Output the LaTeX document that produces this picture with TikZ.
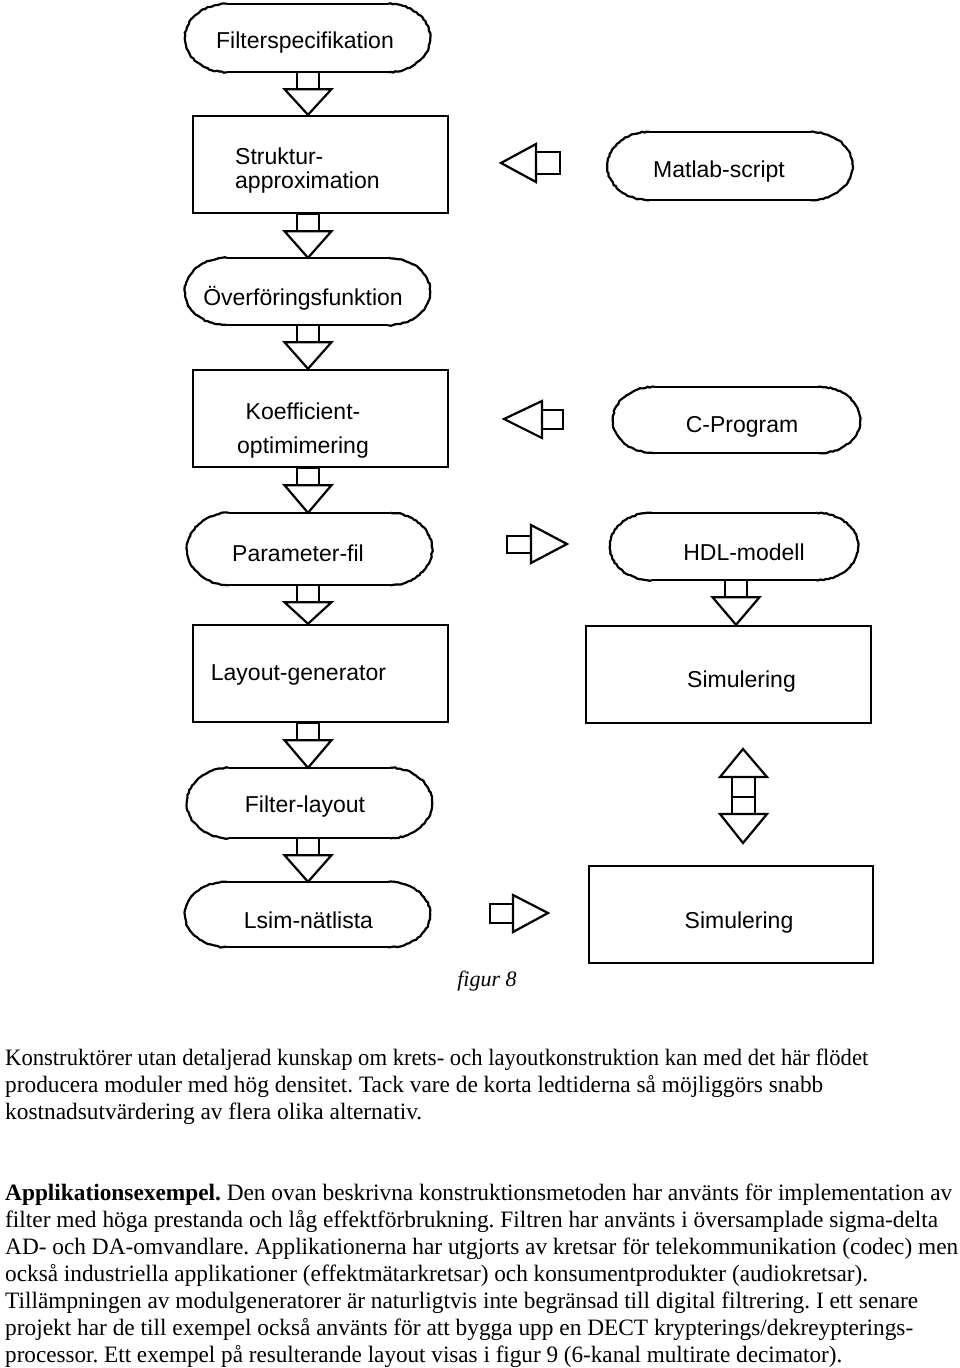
\documentclass[tikz,border=0pt]{standalone}
\usepackage{graphicx}
\usepackage{fontspec}
\setmainfont{Liberation Serif}
\newfontfamily\arialf{Liberation Sans}
\usetikzlibrary{calc,decorations.pathmorphing}
\frenchspacing
\newcommand\pillshape[1]{%
  \draw[ln] ($(#1.north west)+(42,0)$) -- ($(#1.north east)+(-42,0)$);
  \draw[ln] ($(#1.south west)+(42,0)$) -- ($(#1.south east)+(-42,0)$);
  \draw[ln,rough] ($(#1.north east)+(-42,0)$) .. controls ($(#1.north east)+(-18.8,0)$) and ($(#1.east)+(0,-18.8)$) .. (#1.east)
     .. controls ($(#1.east)+(0,18.8)$) and ($(#1.south east)+(-18.8,0)$) .. ($(#1.south east)+(-42,0)$);
  \draw[ln,rough] ($(#1.north west)+(42,0)$) .. controls ($(#1.north west)+(18.8,0)$) and ($(#1.west)+(0,-18.8)$) .. (#1.west)
     .. controls ($(#1.west)+(0,18.8)$) and ($(#1.south west)+(18.8,0)$) .. ($(#1.south west)+(42,0)$);
}
\newcommand\blockdown[3]{%
  \coordinate (bdA) at (#2.south -| #1);
  \coordinate (bdB) at (#3.north -| #1);
  \draw[ln] ($(bdA)+(-11,0)$) rectangle ($(bdA)+(11,17)$);
  \draw[ln] ($(bdA)+(-23.5,17)$) -- ($(bdA)+(23.5,17)$) -- (bdB) -- cycle;
}
\begin{document}
\begin{tikzpicture}[x=1pt,y=-1pt,
  ln/.style={line width=2.2pt, line join=miter},
  rough/.style={decorate, decoration={random steps, segment length=2.5pt, amplitude=0.6pt}},
  pillnode/.style={inner sep=0pt, minimum width=245pt, minimum height=68pt},
  boxnode/.style={draw, line width=2.4pt, inner sep=0pt},
  dtext/.style={font=\arialf\fontsize{23}{27}\selectfont, inner sep=0pt, anchor=base},
  ptext/.style={font=\fontsize{23.5}{27}\selectfont, inner sep=0pt, anchor=base west}
]
\useasboundingbox (0,0) rectangle (960,1368);
\coordinate (cL) at (308,0);
\coordinate (cR) at (736,0);

% left column
\node[pillnode] (fs) at (307.5,38) {};
\pillshape{fs}
\node[dtext] (fst) at (305,48.5) {Filterspecifikation};

\node[boxnode, minimum width=255pt, minimum height=97pt] (sa) at (320.5,164.5) {};
\node[dtext, anchor=base west] (sat1) at (235,164) {Struktur-};
\node[dtext, anchor=base west] (sat2) at (235,188) {approximation};

\node[pillnode, minimum height=67pt] (ov) at (307.5,291.5) {};
\pillshape{ov}
\node[dtext] (ovt) at (303,305) {Överföringsfunktion};

\node[boxnode, minimum width=255pt, minimum height=97pt] (ko) at (320.5,418.5) {};
\node[dtext] (kot1) at (303,419) {Koefficient-};
\node[dtext] (kot2) at (303,453) {optimimering};

\node[pillnode, minimum height=72pt] (pf) at (309.5,549) {};
\pillshape{pf}
\node[dtext] (pft) at (298,561) {Parameter-fil};

\node[boxnode, minimum width=255pt, minimum height=97pt] (lg) at (320.5,673.5) {};
\node[dtext] (lgt) at (298.5,680) {Layout-generator};

\node[pillnode, minimum height=70pt] (fl) at (309.5,803) {};
\pillshape{fl}
\node[dtext] (flt) at (305,812) {Filter-layout};

\node[pillnode, minimum height=65pt] (ln) at (307.5,914.5) {};
\pillshape{ln}
\node[dtext] (lnt) at (308.5,928) {Lsim-nätlista};

\blockdown{cL}{fs}{sa}
\blockdown{cL}{sa}{ov}
\blockdown{cL}{ov}{ko}
\blockdown{cL}{ko}{pf}
\blockdown{cL}{pf}{lg}
\blockdown{cL}{lg}{fl}
\blockdown{cL}{fl}{ln}

% right column
\node[pillnode] (ml) at (730,166) {};
\pillshape{ml}
\node[dtext] (mlt) at (719,177) {Matlab-script};

\node[pillnode, minimum height=66pt, minimum width=247pt] (cp) at (736.5,420) {};
\pillshape{cp}
\node[dtext] (cpt) at (742,432) {C-Program};

\node[pillnode, minimum height=67pt, minimum width=248pt] (hd) at (734,546.5) {};
\pillshape{hd}
\node[dtext] (hdt) at (744,560) {HDL-modell};

\node[boxnode, minimum width=285pt, minimum height=97pt] (s1) at (728.5,674.5) {};
\node[dtext] (s1t) at (741.5,687) {Simulering};

\node[boxnode, minimum width=284pt, minimum height=97pt] (s2) at (731,914.5) {};
\node[dtext] (s2t) at (739,928) {Simulering};

\blockdown{cR}{hd}{s1}

% free block arrows
\draw[ln] (536,152) rectangle (560,174);
\draw[ln] (536,144) -- (536,182) -- (501,163) -- cycle;

\draw[ln] (542,410) rectangle (563,429);
\draw[ln] (542,401) -- (542,438) -- (504,419) -- cycle;

\draw[ln] (507,536) rectangle (531,553);
\draw[ln] (531,525) -- (531,563) -- (567,544) -- cycle;

\draw[ln] (490,904) rectangle (513,923);
\draw[ln] (513,895) -- (513,932) -- (548,913) -- cycle;

\draw[ln] (743,749) -- (767,777) -- (720,777) -- cycle;
\draw[ln] (732,777) rectangle (755,797);
\draw[ln] (732,797) rectangle (755,814);
\draw[ln] (720,814) -- (767,814) -- (743,843) -- cycle;

% caption and text
\node[font=\itshape\fontsize{22}{25}\selectfont, inner sep=0pt, anchor=base] (cap) at (487,986) {figur 8};

\node[ptext] (p1) at (5,1065) {\resizebox{863pt}{\height}{Konstruktörer utan detaljerad kunskap om krets- och layoutkonstruktion kan med det här flödet}};
\node[ptext] (p2) at (5,1092) {\resizebox{818pt}{\height}{producera moduler med hög densitet. Tack vare de korta ledtiderna så möjliggörs snabb}};
\node[ptext] (p3) at (5,1119) {\resizebox{417pt}{\height}{kostnadsutvärdering av flera olika alternativ.}};
\node[ptext] (p4) at (5,1200) {\resizebox{947pt}{\height}{\textbf{Applikationsexempel.} Den ovan beskrivna konstruktionsmetoden har använts för implementation av}};
\node[ptext] (p5) at (5,1227) {\resizebox{933pt}{\height}{filter med höga prestanda och låg effektförbrukning. Filtren har använts i översamplade sigma-delta}};
\node[ptext] (p6) at (5,1254) {\resizebox{953pt}{\height}{AD- och DA-omvandlare. Applikationerna har utgjorts av kretsar för telekommunikation (codec) men}};
\node[ptext] (p7) at (5,1281) {\resizebox{863pt}{\height}{också industriella applikationer (effektmätarkretsar) och konsumentprodukter (audiokretsar).}};
\node[ptext] (p8) at (5,1308) {\resizebox{913pt}{\height}{Tillämpningen av modulgeneratorer är naturligtvis inte begränsad till digital filtrering. I ett senare}};
\node[ptext] (p9) at (5,1335) {\resizebox{908pt}{\height}{projekt har de till exempel också använts för att bygga upp en DECT krypterings/dekreypterings-}};
\node[ptext] (p10) at (5,1362) {\resizebox{837pt}{\height}{processor. Ett exempel på resulterande layout visas i figur 9 (6-kanal multirate decimator).}};
\end{tikzpicture}
\end{document}
